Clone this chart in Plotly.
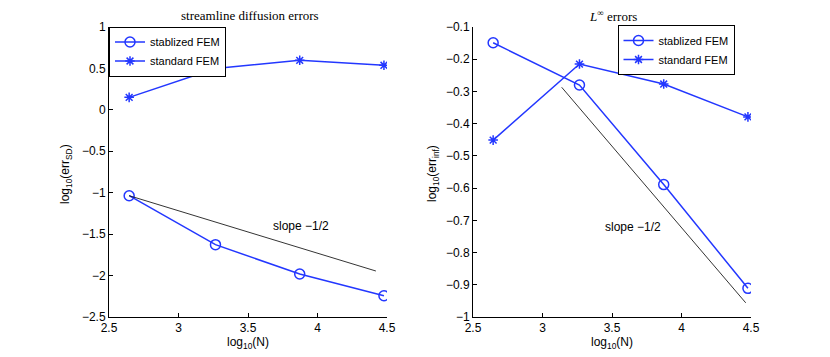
import plotly.graph_objects as go

# log10(N) for the four meshes
log_n = [2.645, 3.266, 3.872, 4.478]

# left panel: streamline diffusion errors
sd_stab = [-1.036, -1.627, -1.981, -2.243]
sd_std = [0.151, 0.50, 0.598, 0.538]
sd_slope_x = [2.645, 4.42]
sd_slope_y = [-1.036, -1.945]

# right panel: L-infinity errors
inf_stab = [-0.149, -0.280, -0.589, -0.911]
inf_std = [-0.451, -0.215, -0.277, -0.379]
inf_slope_x = [3.138, 4.462]
inf_slope_y = [-0.287, -0.956]

blue = "rgb(35,55,255)"
font = dict(family="Liberation Sans, Arial, sans-serif", size=12, color="black")
legfont = dict(family="Liberation Sans, Arial, sans-serif", size=11, color="black")
serif = dict(family="Liberation Serif, DejaVu Serif, serif", size=13, color="black")

fig = go.Figure()

def add_panel(xa, ya, leg, stab, std, sx, sy):
    fig.add_trace(go.Scatter(x=log_n, y=stab, mode="lines+markers", name="stablized FEM",
                             line=dict(color=blue, width=1.5),
                             marker=dict(symbol="circle-open", size=10, color=blue, line=dict(width=1.5)),
                             xaxis=xa, yaxis=ya, legend=leg))
    fig.add_trace(go.Scatter(x=log_n, y=std, mode="lines+markers", name="standard FEM",
                             line=dict(color=blue, width=1.5),
                             marker=dict(symbol="asterisk-open", size=8, color=blue, line=dict(width=1.5, color=blue)),
                             xaxis=xa, yaxis=ya, legend=leg))
    fig.add_trace(go.Scatter(x=sx, y=sy, mode="lines", line=dict(color="black", width=0.8),
                             showlegend=False, xaxis=xa, yaxis=ya))

add_panel("x", "y", "legend", sd_stab, sd_std, sd_slope_x, sd_slope_y)
add_panel("x2", "y2", "legend2", inf_stab, inf_std, inf_slope_x, inf_slope_y)

ydom = [1 - 317 / 357, 1 - 27 / 357]
axis_common = dict(showline=True, linecolor="black", linewidth=1, ticks="inside", ticklen=4,
                   tickcolor="black", showgrid=False, zeroline=False, tickfont=font, mirror=False,
                   automargin=False)

fig.update_layout(
    width=830, height=357,
    margin=dict(l=0, r=0, t=0, b=0),
    paper_bgcolor="white", plot_bgcolor="white",
    font=font,
    xaxis=dict(domain=[109 / 830, 387 / 830], range=[2.5, 4.5], dtick=0.5, anchor="y",
               title=dict(text="log<sub>10</sub>(N)", font=font, standoff=0), **axis_common),
    yaxis=dict(domain=ydom, range=[-2.5, 1], dtick=0.5, anchor="x", **axis_common),
    xaxis2=dict(domain=[473 / 830, 751 / 830], range=[2.5, 4.5], dtick=0.5, anchor="y2",
                title=dict(text="log<sub>10</sub>(N)", font=font, standoff=0), **axis_common),
    yaxis2=dict(domain=ydom, range=[-1, -0.1], dtick=0.1, anchor="x2", **axis_common),
    legend=dict(x=109 / 830, y=1 - 26.5 / 357, xanchor="left", yanchor="top",
                bordercolor="black", borderwidth=1, bgcolor="white", font=legfont,
                tracegroupgap=0, itemwidth=30),
    legend2=dict(x=617.5 / 830, y=1 - 25 / 357, xanchor="left", yanchor="top",
                 bordercolor="black", borderwidth=1, bgcolor="white", font=legfont,
                 tracegroupgap=0, itemwidth=30),
    showlegend=True,
)

annotations = [
    dict(text="streamline diffusion errors", x=250 / 830, y=1 - 16 / 357),
    dict(text="<i>L</i><sup>∞</sup> errors", x=613 / 830, y=1 - 16 / 357),
    dict(text="log<sub>10</sub>(err<sub>SD</sub>)", x=66 / 830, y=1 - 174 / 357, textangle=-90),
    dict(text="log<sub>10</sub>(err<sub>inf</sub>)", x=433 / 830, y=1 - 174 / 357, textangle=-90),
]
for i, a in enumerate(annotations):
    a.update(xref="paper", yref="paper", xanchor="center", yanchor="middle", showarrow=False,
             font=serif if i < 2 else font)
annotations += [
    dict(text="slope −1/2", x=3.88, y=-1.40, xref="x", yref="y", showarrow=False, font=font),
    dict(text="slope −1/2", x=3.653, y=-0.722, xref="x2", yref="y2", showarrow=False, font=font),
]
fig.update_layout(annotations=annotations)

# drop the default 8px body margin so the figure sits flush in the window
fig.write_html("out.html", config={"displayModeBar": False},
               post_script="document.body.style.margin='0';")
